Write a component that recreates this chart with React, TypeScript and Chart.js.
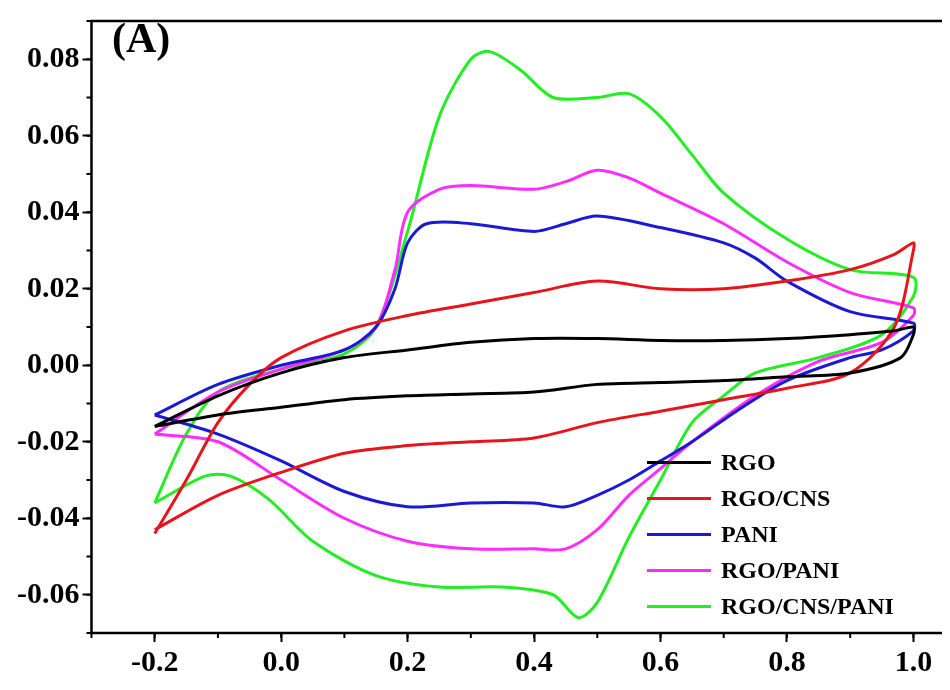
import React, { useEffect, useRef } from "react";
import { Chart, registerables } from "chart.js";

Chart.register(...registerables);

const seriesNames = ["RGO", "RGO/CNS", "PANI", "RGO/PANI", "RGO/CNS/PANI"];
const seriesColors = ["#000000", "#e8141c", "#1a1ad6", "#ff2cff", "#22ee22"];

const rgoX = [-0.2, -0.1, 0, 0.1, 0.2, 0.3, 0.4, 0.5, 0.6, 0.7, 0.8, 0.9, 0.97, 1.0, 1.0, 0.98, 0.9, 0.8, 0.7, 0.6, 0.5, 0.4, 0.3, 0.2, 0.1, 0, -0.1, -0.2];
const rgoY = [-0.016, -0.008, -0.002, 0.002, 0.004, 0.006, 0.007, 0.007, 0.0065, 0.0065, 0.007, 0.008, 0.009, 0.01, 0.008, 0.002, -0.002, -0.003, -0.004, -0.0045, -0.005, -0.007, -0.0075, -0.008, -0.009, -0.011, -0.013, -0.016];

const cnsX = [-0.2, -0.15, -0.1, -0.05, 0, 0.1, 0.2, 0.3, 0.4, 0.5, 0.6, 0.7, 0.8, 0.9, 0.97, 1.0, 1.0, 0.97, 0.9, 0.8, 0.7, 0.6, 0.5, 0.4, 0.3, 0.2, 0.1, 0, -0.1, -0.2];
const cnsY = [-0.044, -0.03, -0.015, -0.005, 0.002, 0.009, 0.013, 0.016, 0.019, 0.022, 0.02, 0.02, 0.022, 0.025, 0.029, 0.032, 0.03, 0.01, -0.002, -0.006, -0.009, -0.012, -0.015, -0.019, -0.02, -0.021, -0.023, -0.028, -0.034, -0.043];

const paniX = [-0.2, -0.1, 0, 0.1, 0.15, 0.18, 0.2, 0.23, 0.3, 0.4, 0.45, 0.5, 0.6, 0.7, 0.75, 0.8, 0.9, 1.0, 1.0, 0.95, 0.9, 0.8, 0.72, 0.65, 0.6, 0.55, 0.5, 0.45, 0.4, 0.3, 0.2, 0.1, 0, -0.1, -0.2];
const paniY = [-0.013, -0.005, 0, 0.004, 0.01, 0.02, 0.032, 0.037, 0.037, 0.035, 0.037, 0.039, 0.036, 0.032, 0.028, 0.022, 0.014, 0.011, 0.009, 0.004, 0.002, -0.004, -0.012, -0.02, -0.025, -0.03, -0.034, -0.037, -0.036, -0.036, -0.037, -0.033, -0.025, -0.018, -0.013];

const rgoPaniX = [-0.2, -0.1, 0, 0.1, 0.15, 0.18, 0.2, 0.25, 0.3, 0.4, 0.45, 0.5, 0.55, 0.6, 0.7, 0.8, 0.9, 1.0, 1.0, 0.95, 0.85, 0.75, 0.65, 0.6, 0.55, 0.5, 0.45, 0.4, 0.3, 0.2, 0.1, 0, -0.1, -0.2];
const rgoPaniY = [-0.018, -0.007, -0.001, 0.004, 0.01, 0.025, 0.04, 0.046, 0.047, 0.046, 0.048, 0.051, 0.049, 0.045, 0.037, 0.027, 0.019, 0.015, 0.013, 0.006, 0.001, -0.008, -0.02, -0.027, -0.034, -0.043, -0.048, -0.048, -0.048, -0.046, -0.04, -0.03, -0.02, -0.018];

const allX = [-0.2, -0.15, -0.1, 0, 0.1, 0.15, 0.2, 0.25, 0.3, 0.33, 0.38, 0.43, 0.5, 0.55, 0.6, 0.65, 0.7, 0.8, 0.9, 1.0, 1.0, 0.95, 0.85, 0.75, 0.7, 0.65, 0.6, 0.55, 0.5, 0.47, 0.43, 0.35, 0.25, 0.15, 0.05, -0.02, -0.08, -0.12, -0.2];
const allY = [-0.036, -0.018, -0.007, -0.001, 0.003, 0.01, 0.035, 0.065, 0.08, 0.082, 0.077, 0.07, 0.07, 0.071, 0.065, 0.055, 0.045, 0.033, 0.025, 0.023, 0.018, 0.008, 0.002, -0.002, -0.008, -0.015, -0.03, -0.045, -0.062, -0.066, -0.06, -0.058, -0.058, -0.055, -0.046, -0.035, -0.029, -0.029, -0.036];

const xTicks = [-0.2, 0, 0.2, 0.4, 0.6, 0.8, 1.0];
const yTicks = [-0.06, -0.04, -0.02, 0, 0.02, 0.04, 0.06, 0.08];

const seriesX = [rgoX, cnsX, paniX, rgoPaniX, allX];
const seriesY = [rgoY, cnsY, paniY, rgoPaniY, allY];

const FONT = "'Liberation Serif', 'Times New Roman', serif";

const framePlugin = {
  id: "frame",
  afterDraw(chart: any) {
    const { ctx, chartArea: a, scales } = chart;
    ctx.save();
    ctx.strokeStyle = "#000";
    ctx.lineWidth = 2.5;
    ctx.strokeRect(a.left, a.top, a.right - a.left, a.bottom - a.top);
    ctx.lineWidth = 2;
    // minor ticks between the labelled ones
    for (let v = -0.3; v <= 1.05; v += 0.1) {
      const px = scales.x.getPixelForValue(v);
      if (px < a.left || px > a.right) continue;
      ctx.beginPath();
      ctx.moveTo(px, a.bottom);
      ctx.lineTo(px, a.bottom + 5);
      ctx.stroke();
    }
    for (let v = -0.07; v <= 0.09; v += 0.01) {
      const py = scales.y.getPixelForValue(v);
      if (py < a.top || py > a.bottom) continue;
      ctx.beginPath();
      ctx.moveTo(a.left, py);
      ctx.lineTo(a.left - 5, py);
      ctx.stroke();
    }
    ctx.restore();
  },
};

export default function App() {
  const ref = useRef<HTMLCanvasElement | null>(null);

  useEffect(() => {
    if (!ref.current) return;
    const chart = new Chart(ref.current, {
      type: "scatter",
      data: {
        datasets: seriesNames.map((name, i) => ({
          label: name,
          data: seriesX[i].map((x, j) => ({ x, y: seriesY[i][j] })),
          showLine: true,
          borderColor: seriesColors[i],
          borderWidth: 3,
          pointRadius: 0,
          tension: 0.3,
        })),
      },
      options: {
        animation: false,
        responsive: false,
        layout: { padding: { top: -12, right: 5, left: 14, bottom: 6 } },
        plugins: { legend: { display: false }, tooltip: { enabled: false } },
        scales: {
          x: {
            type: "linear",
            min: -0.3,
            max: 1.05,
            afterBuildTicks: (axis: any) => {
              axis.ticks = xTicks.map((value) => ({ value }));
            },
            grid: { drawOnChartArea: false, tickLength: 9, tickWidth: 2, color: "#000" },
            border: { display: false },
            ticks: {
              color: "#000",
              font: { family: FONT, size: 30, weight: "bold" },
              callback: (v: any) => Number(v).toFixed(1),
              maxRotation: 0,
            },
          },
          y: {
            min: -0.07,
            max: 0.09,
            afterBuildTicks: (axis: any) => {
              axis.ticks = yTicks.map((value) => ({ value }));
            },
            grid: { drawOnChartArea: false, tickLength: 9, tickWidth: 2, color: "#000" },
            border: { display: false },
            ticks: {
              color: "#000",
              font: { family: FONT, size: 30, weight: "bold" },
              callback: (v: any) => Number(v).toFixed(2),
            },
          },
        },
      },
      plugins: [framePlugin],
    });
    return () => chart.destroy();
  }, []);

  return (
    <div style={{ position: "relative", width: 950, height: 690, margin: -8, background: "#fff" }}>
      <canvas ref={ref} width={950} height={690} />
      <div
        style={{
          position: "absolute",
          left: 112,
          top: 14,
          fontFamily: FONT,
          fontWeight: "bold",
          fontSize: 42,
        }}
      >
        (A)
      </div>
      <div style={{ position: "absolute", left: 647, top: 444, fontFamily: FONT, fontWeight: "bold", fontSize: 24 }}>
        {seriesNames.map((name, i) => (
          <div key={name} style={{ display: "flex", alignItems: "center", height: 36 }}>
            <span style={{ width: 64, height: 3, background: seriesColors[i], marginRight: 10 }} />
            {name}
          </div>
        ))}
      </div>
    </div>
  );
}
